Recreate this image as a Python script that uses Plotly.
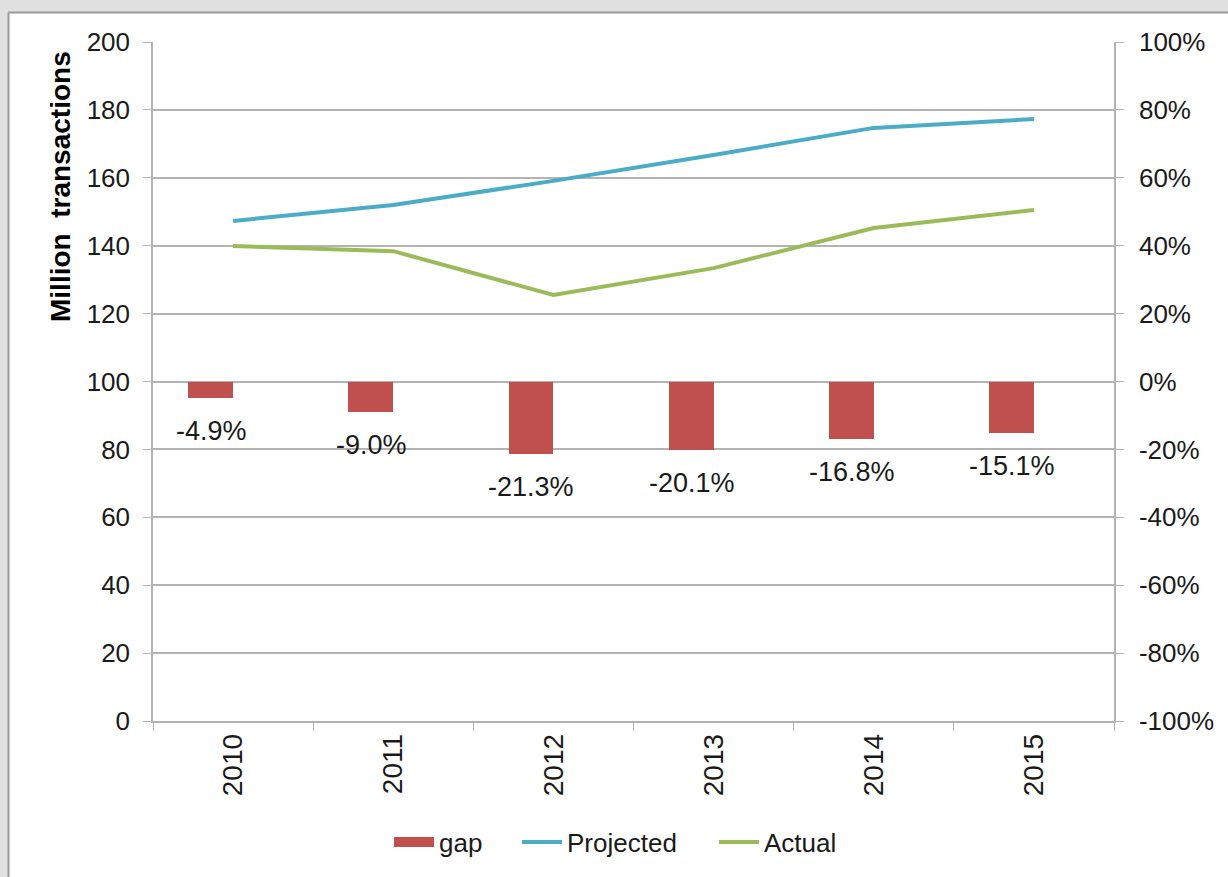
import plotly.graph_objects as go

years = ["2010", "2011", "2012", "2013", "2014", "2015"]
projected = [147.3, 152.0, 159.1, 166.7, 174.7, 177.3]
actual = [139.9, 138.4, 125.5, 133.4, 145.2, 150.5]
gap = [-4.9, -9.0, -21.3, -20.1, -16.8, -15.1]
gap_labels = ["-4.9%", "-9.0%", "-21.3%", "-20.1%", "-16.8%", "-15.1%"]
left_ticks = [0, 20, 40, 60, 80, 100, 120, 140, 160, 180, 200]
right_ticks = [-100, -80, -60, -40, -20, 0, 20, 40, 60, 80, 100]
right_labels = [f"{v}%" for v in right_ticks]

FONT = "Liberation Sans, Arial, sans-serif"
TXT = "#1a1a1a"
GRID = "#b3b3b3"
BAR = "#C0504D"

fig = go.Figure()
fig.add_trace(go.Bar(x=years, y=gap, name="gap", yaxis="y2", showlegend=False,
                     marker=dict(color=BAR, line=dict(width=0)),
                     width=0.28, offset=-0.28))
# legend entry for gap (wide swatch like the reference)
fig.add_trace(go.Scatter(x=[None], y=[None], name="gap", mode="lines",
                         line=dict(color=BAR, width=14), legend="legend"))
fig.add_trace(go.Scatter(x=years, y=projected, name="Projected", mode="lines",
                         line=dict(color="#4BACC6", width=4), legend="legend2"))
fig.add_trace(go.Scatter(x=years, y=actual, name="Actual", mode="lines",
                         line=dict(color="#9BBB59", width=4), legend="legend3"))

for i, (g, lab) in enumerate(zip(gap, gap_labels)):
    fig.add_annotation(x=i, y=g, xref="x", yref="y2", text=lab, showarrow=False,
                       xshift=-22, yshift=-33, yanchor="middle",
                       font=dict(size=27, color=TXT, family=FONT))

fig.add_annotation(xref="paper", yref="paper", x=(60 - 153) / 961, y=(721 - 187) / 679,
                   text="<b>Million  transactions</b>", textangle=-90,
                   showarrow=False, xanchor="center", yanchor="middle",
                   font=dict(size=28, color="#000000", family=FONT))

# gray frame bands (top and left)
ytop = (721 - 12.5) / 679
xleft = (8.5 - 153) / 961
fig.add_shape(type="rect", xref="paper", yref="paper", x0=-0.2, x1=1.2,
              y0=ytop, y1=1.2, fillcolor="#e0e0e0", line=dict(width=0), layer="below")
fig.add_shape(type="rect", xref="paper", yref="paper", x0=-0.2, x1=xleft,
              y0=-0.3, y1=1.2, fillcolor="#e0e0e0", line=dict(width=0), layer="below")
fig.add_shape(type="line", xref="paper", yref="paper", x0=xleft, x1=1.2,
              y0=ytop, y1=ytop, line=dict(color="#9a9a9a", width=2), layer="below")
fig.add_shape(type="line", xref="paper", yref="paper", x0=xleft, x1=xleft,
              y0=-0.3, y1=ytop, line=dict(color="#9a9a9a", width=2), layer="below")

def leg(px_left):
    return dict(orientation="h", x=(px_left - 153) / 961, xanchor="left",
                y=(721 - 842) / 679, yanchor="middle",
                font=dict(size=26, color=TXT, family=FONT),
                bgcolor="rgba(0,0,0,0)", itemwidth=40)

fig.update_layout(
    width=1228, height=877,
    margin=dict(l=153, r=114, t=42, b=156),
    paper_bgcolor="white", plot_bgcolor="rgba(0,0,0,0)",
    font=dict(family=FONT, size=26, color=TXT),
    showlegend=True,
    legend=leg(389),
    legend2=leg(517),
    legend3=leg(714),
    xaxis=dict(type="category", range=[-0.5, 5.5], autorange=False,
               tickangle=-90, showgrid=False,
               showline=True, linecolor=GRID, linewidth=1.5,
               ticks="outside", ticklen=8, tickcolor=GRID, tickson="boundaries",
               tickfont=dict(size=28, color=TXT, family=FONT)),
    yaxis=dict(range=[0, 200], autorange=False, tickvals=left_ticks, showgrid=True,
               gridcolor=GRID, gridwidth=1.5, showline=True, linecolor=GRID,
               linewidth=1.5, ticks="outside", ticklen=8, tickcolor=GRID,
               ticklabelstandoff=8,
               zeroline=False, tickfont=dict(size=26, color=TXT, family=FONT)),
    yaxis2=dict(range=[-100, 100], autorange=False, tickvals=right_ticks,
                ticktext=right_labels,
                overlaying="y", side="right", showgrid=False, showline=True,
                linecolor=GRID, linewidth=1.5, ticks="outside", ticklen=8,
                tickcolor=GRID, zeroline=False, ticklabelstandoff=10,
                tickfont=dict(size=26, color=TXT, family=FONT)),
    bargap=0.0,
)

fig.write_html("out.html", config={"displayModeBar": False},
               post_script="document.body.style.margin='0';document.body.style.overflow='hidden';")
